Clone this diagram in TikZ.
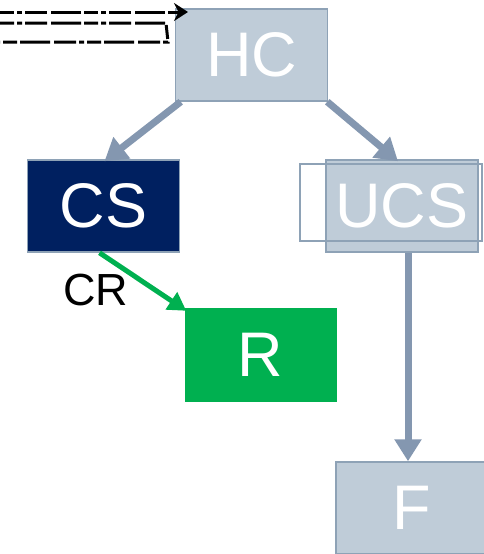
\documentclass[tikz,border=0pt]{standalone}
\usepackage{fontspec}
\setmainfont{Liberation Sans}
\usetikzlibrary{arrows.meta}
\definecolor{boxgrey}{HTML}{BFCCD8}
\definecolor{edgegrey}{HTML}{8EA2B6}
\definecolor{arrgrey}{HTML}{8497B0}
\definecolor{navy}{HTML}{002060}
\definecolor{grn}{HTML}{00B050}
\tikzset{
  box/.style={rectangle, minimum width=152pt, minimum height=92pt, inner sep=0pt,
    font=\fontsize{63}{63}\selectfont, text=white},
  greybox/.style={box, fill=boxgrey, draw=edgegrey, line width=1.5pt},
  conn/.style={draw=arrgrey, line width=7pt, -{Triangle[length=22pt,width=26pt]}},
  gconn/.style={draw=grn, line width=5pt, -{Triangle[length=18pt,width=20pt]}},
  scribble/.style={draw=black, line width=3pt, dash pattern=on 14pt off 3pt on 5pt off 3pt on 22pt off 4pt on 30pt off 3pt}
}
\begin{document}
\begin{tikzpicture}[x=1pt,y=-1pt]
\useasboundingbox (0,0) rectangle (483,554);
\node[greybox] (HC) at (251.5,55) {HC};
\node[box, fill=navy, draw=edgegrey, line width=1.5pt] (CS) at (103.5,206) {CS};
\node[greybox] (UCS) at (402,206) {UCS};
\draw[edgegrey, line width=1.5pt] (300,164) rectangle (482,241);
\node[box, fill=grn, minimum height=94pt] (R) at (260.5,355) {R};
\node[greybox] (F) at (412,508) {F};
% scribbled arrow top-left
\coordinate (s1) at (0,12);
\coordinate (s2) at (188,12);
\draw[scribble, -{Stealth[length=14pt,width=18pt]}] (s1) -- (s2);
\draw[scribble] (0,23) -- (166,23) -- (168,42) -- (0,42);
% connectors
\draw[conn] ([xshift=6pt]HC.south west) -- ([xshift=1pt,yshift=-2pt]CS.north);
\draw[conn] ([xshift=-1pt]HC.south east) -- ([xshift=-4pt,yshift=-2pt]UCS.north);
\draw[conn] ([xshift=6pt]UCS.south) -- ([xshift=-4pt]F.north);
\draw[gconn] ([xshift=-4pt]CS.south) -- ([xshift=2pt,yshift=-3pt]R.north west);
\node[font=\fontsize{45}{45}\selectfont] (CR) at (96,290) {CR};
\end{tikzpicture}
\end{document}
